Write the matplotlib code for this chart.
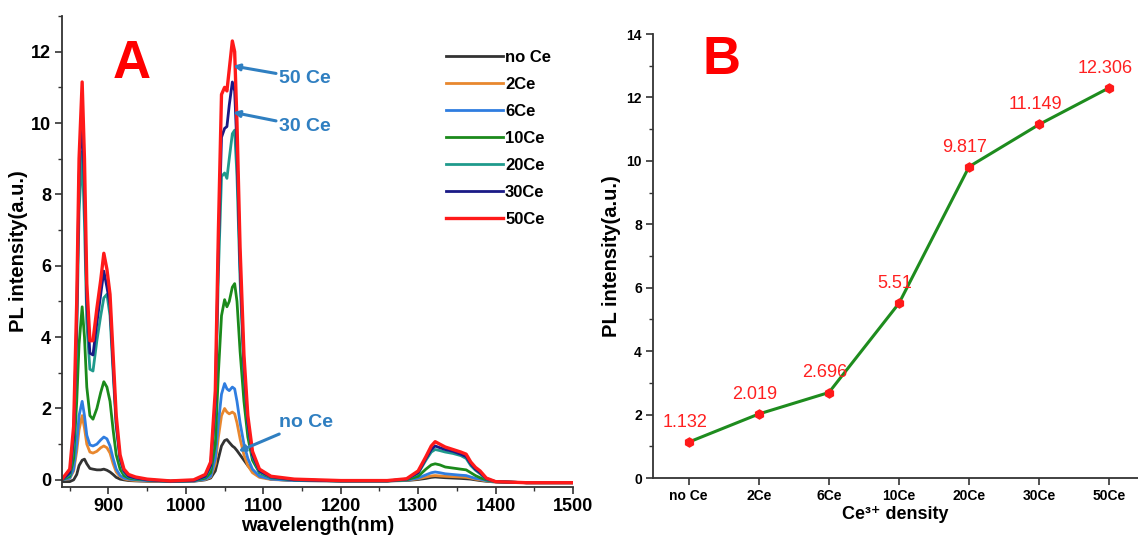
import matplotlib.pyplot as plt
from matplotlib.ticker import MultipleLocator

plt.rcParams['font.family'] = ['Liberation Sans', 'DejaVu Sans']

# ---- panel A: PL spectra ----
wl = [840, 850, 855, 859, 862, 866, 869, 872, 876, 880, 885, 890, 894, 898, 902, 906, 910, 915, 920, 926,
      935, 950, 980, 1010, 1025, 1032, 1038, 1042, 1046, 1050, 1053, 1056, 1060, 1063, 1066, 1070, 1075, 1080,
      1086, 1095, 1110, 1140, 1200, 1260, 1285, 1300, 1310, 1317, 1322, 1328, 1335, 1345, 1355, 1362, 1368,
      1374, 1380, 1388, 1400, 1440, 1500]

noce = [-0.05, -0.05, 0.0, 0.15, 0.4, 0.55, 0.58, 0.45, 0.32, 0.3, 0.28, 0.28, 0.3, 0.27, 0.22, 0.15, 0.07, 0.02, 0.0, -0.02,
        -0.03, -0.04, -0.05, -0.04, 0.0, 0.05, 0.25, 0.6, 0.95, 1.1, 1.13, 1.05, 0.95, 0.9, 0.82, 0.7, 0.55, 0.4,
        0.25, 0.1, 0.02, -0.02, -0.03, -0.03, -0.02, 0.01, 0.04, 0.07, 0.08, 0.07, 0.06, 0.05, 0.04, 0.03, 0.02,
        0.0, -0.02, -0.04, -0.06, -0.08, -0.08]
ce2 = [0.0, 0.04, 0.25, 0.8, 1.4, 1.8, 1.45, 1.0, 0.78, 0.75, 0.8, 0.9, 0.95, 0.9, 0.75, 0.45, 0.22, 0.09, 0.03, 0.0,
       -0.02, -0.03, -0.04, -0.03, 0.01, 0.08, 0.45, 1.2, 1.8, 2.0, 1.9, 1.85, 1.9, 1.85, 1.6, 1.15, 0.7, 0.4,
       0.2, 0.07, 0.01, -0.02, -0.03, -0.03, -0.01, 0.03, 0.08, 0.11, 0.12, 0.11, 0.1, 0.09, 0.08, 0.07, 0.05,
       0.02, 0.0, -0.03, -0.05, -0.08, -0.08]
ce6 = [0.0, 0.05, 0.3, 1.0, 1.8, 2.2, 1.8, 1.25, 0.98, 0.95, 1.0, 1.12, 1.2, 1.15, 0.95, 0.6, 0.3, 0.12, 0.05, 0.02,
       0.0, -0.02, -0.04, -0.03, 0.02, 0.1, 0.6, 1.6, 2.4, 2.7, 2.55, 2.5, 2.6, 2.55, 2.2, 1.6, 1.0, 0.6,
       0.3, 0.1, 0.02, -0.02, -0.03, -0.03, -0.01, 0.05, 0.14, 0.2, 0.22, 0.2, 0.17, 0.15, 0.13, 0.12, 0.08,
       0.04, 0.02, -0.02, -0.05, -0.08, -0.08]
ce10 = [0.0, 0.1, 0.6, 2.2, 3.8, 4.85, 4.0, 2.6, 1.8, 1.7, 2.0, 2.45, 2.75, 2.6, 2.2, 1.4, 0.7, 0.3, 0.12, 0.05,
        0.02, 0.0, -0.04, -0.02, 0.05, 0.2, 1.0, 3.0, 4.6, 5.05, 4.85, 5.0, 5.4, 5.5, 5.0, 3.6, 2.2, 1.2,
        0.55, 0.2, 0.06, 0.0, -0.03, -0.03, 0.0, 0.1, 0.3, 0.42, 0.45, 0.42, 0.36, 0.33, 0.3, 0.28, 0.2,
        0.12, 0.06, 0.0, -0.05, -0.08, -0.08]
ce20 = [0.0, 0.15, 1.0, 4.0, 7.5, 9.2, 7.2, 4.4, 3.1, 3.05, 3.9, 4.6, 5.1, 5.2, 4.6, 3.0, 1.5, 0.55, 0.2, 0.08,
        0.03, 0.0, -0.04, -0.02, 0.08, 0.35, 2.0, 5.8, 8.5, 8.6, 8.45, 9.0, 9.7, 9.8, 8.5, 5.6, 3.0, 1.5,
        0.65, 0.22, 0.07, 0.0, -0.03, -0.03, 0.02, 0.18, 0.55, 0.78, 0.85, 0.82, 0.78, 0.74, 0.68, 0.6, 0.4,
        0.27, 0.17, 0.02, -0.05, -0.08, -0.08]
ce30 = [0.0, 0.2, 1.2, 4.5, 8.5, 10.3, 8.2, 5.0, 3.55, 3.5, 4.4, 5.2, 5.85, 5.4, 4.9, 3.2, 1.6, 0.6, 0.25, 0.1,
        0.05, 0.0, -0.04, -0.02, 0.1, 0.4, 2.2, 6.5, 9.6, 9.85, 9.9, 10.5, 11.15, 10.9, 9.3, 6.0, 3.2, 1.6,
        0.7, 0.25, 0.08, 0.0, -0.03, -0.03, 0.02, 0.2, 0.6, 0.85, 0.95, 0.9, 0.85, 0.8, 0.72, 0.65, 0.45,
        0.3, 0.2, 0.03, -0.05, -0.08, -0.08]
ce50 = [0.02, 0.3, 1.5, 5.0, 9.0, 11.15, 9.0, 5.5, 3.9, 3.9, 4.8, 5.6, 6.35, 5.9, 5.2, 3.5, 1.8, 0.7, 0.3, 0.15,
        0.08, 0.02, -0.03, 0.0, 0.15, 0.5, 2.5, 7.0, 10.8, 11.0, 10.9, 11.5, 12.3, 12.0, 10.0, 6.5, 3.5, 1.8,
        0.8, 0.3, 0.1, 0.02, -0.02, -0.02, 0.03, 0.25, 0.65, 0.95, 1.07, 1.0, 0.92, 0.85, 0.78, 0.72, 0.5,
        0.35, 0.25, 0.05, -0.05, -0.08, -0.08]

spectra = [noce, ce2, ce6, ce10, ce20, ce30, ce50]
names = ['no Ce', '2Ce', '6Ce', '10Ce', '20Ce', '30Ce', '50Ce']
colors = ['#333333', '#e8872e', '#2f7de0', '#1b8a1b', '#1f9a8c', '#1a1a86', '#ff1a1a']

# ---- panel B: peak intensity vs Ce content ----
dens = ['no Ce', '2Ce', '6Ce', '10Ce', '20Ce', '30Ce', '50Ce']
peak = [1.132, 2.019, 2.696, 5.51, 9.817, 11.149, 12.306]
peak_txt = ['1.132', '2.019', '2.696', '5.51', '9.817', '11.149', '12.306']

fig = plt.figure(figsize=(11.38, 5.44), dpi=100)
axA = fig.add_axes([0.0545, 0.1048, 0.449, 0.8658])
axB = fig.add_axes([0.5738, 0.1213, 0.4262, 0.8162])

for y, n, c in zip(spectra, names, colors):
    axA.plot(wl, y, color=c, lw=2.4 if n == '50Ce' else 2.0, label=n,
             solid_joinstyle='round')

axA.set_xlim(840, 1500)
axA.set_ylim(-0.2, 13.0)
axA.xaxis.set_major_locator(MultipleLocator(100))
axA.xaxis.set_minor_locator(MultipleLocator(50))
axA.yaxis.set_major_locator(MultipleLocator(2))
axA.yaxis.set_minor_locator(MultipleLocator(1))
axA.set_xticks([900, 1000, 1100, 1200, 1300, 1400, 1500])
axA.set_xlabel('wavelength(nm)', fontsize=14.5, fontweight='bold', labelpad=1)
axA.set_ylabel('PL intensity(a.u.)', fontsize=14.5, fontweight='bold', labelpad=2)

leg = axA.legend(loc='upper left', bbox_to_anchor=(0.735, 0.945), frameon=False,
                 prop={'weight': 'bold', 'size': 12}, handlelength=3.4, handletextpad=0.15,
                 labelspacing=0.72, borderpad=0)

axA.text(0.137, 0.898, 'A', transform=axA.transAxes, color='#ff0000', fontsize=38,
         fontweight='bold', ha='center', va='center')

blue = '#2f7fc1'
arrow = dict(arrowstyle='-|>', color=blue, lw=2.2, mutation_scale=9, shrinkA=0, shrinkB=0)
axA.annotate('50 Ce', xy=(1061, 11.6), xytext=(1120, 11.25), color=blue, fontsize=14,
             fontweight='bold', va='center', arrowprops=arrow)
axA.annotate('30 Ce', xy=(1061, 10.3), xytext=(1120, 9.9), color=blue, fontsize=14,
             fontweight='bold', va='center', arrowprops=arrow)
axA.annotate('no Ce', xy=(1068, 0.8), xytext=(1120, 1.6), color=blue, fontsize=14,
             fontweight='bold', va='center', arrowprops=arrow)

# panel B
x = list(range(len(dens)))
axB.plot(x, peak, color='#1e8c1e', lw=2.2, zorder=2)
axB.plot(x, peak, 'h', color='#ff1a1a', ms=6.5, zorder=3)
for xi, v, t in zip(x, peak, peak_txt):
    axB.annotate(t, xy=(xi, v), xytext=(-3, 8), textcoords='offset points', ha='center',
                 va='bottom', color='#ff2020', fontsize=13)
axB.set_xlim(-0.51, 6.41)
axB.set_ylim(0, 14)
axB.set_xticks(x)
axB.set_xticklabels(dens)
axB.yaxis.set_major_locator(MultipleLocator(2))
axB.yaxis.set_minor_locator(MultipleLocator(1))
axB.set_xlabel('Ce³⁺ density', fontsize=13, fontweight='bold', labelpad=2)
axB.set_ylabel('PL intensity(a.u.)', fontsize=14.5, fontweight='bold', labelpad=4)
axB.text(0.142, 0.941, 'B', transform=axB.transAxes, color='#ff0000', fontsize=38,
         fontweight='bold', ha='center', va='center')

for ax, fs in ((axA, 13), (axB, 10)):
    for s in ('top', 'right'):
        ax.spines[s].set_visible(False)
    for s in ('left', 'bottom'):
        ax.spines[s].set_linewidth(1.3)
        ax.spines[s].set_color('#333333')
    ax.tick_params(which='major', direction='out', length=5, width=1.2, color='#333333',
                   labelsize=fs, pad=3)
    ax.tick_params(which='minor', direction='out', length=3, width=1.0, color='#333333')
    for lab in ax.get_xticklabels() + ax.get_yticklabels():
        lab.set_fontweight('bold')

fig.savefig('out.png', dpi=100)
